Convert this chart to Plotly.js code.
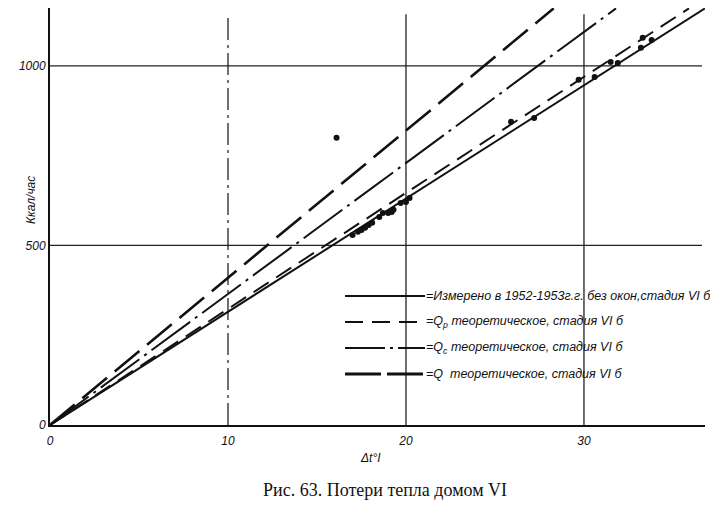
<!DOCTYPE html>
<html>
<head>
<meta charset="utf-8">
<script src="https://cdn.plot.ly/plotly-3.0.1.min.js"></script>
<style>html,body{margin:0;padding:0;background:#fff;}#chart{width:710px;height:512px;}</style>
</head>
<body>
<div id="chart"></div>
<script>
// Line endpoints (Δt, kcal/h)
var measuredX = [0, 36.8];
var measuredY = [0, 1160];
var qpX = [0, 35.9];
var qpY = [0, 1160];
var qcX = [0, 31.8];
var qcY = [0, 1160];
var qX = [0, 28.3];
var qY = [0, 1160];

// Measured points
var pointsX = [17.0, 17.3, 17.5, 17.7, 17.9, 18.1, 18.5, 18.7, 19.0, 19.2, 19.3, 19.7, 20.0, 20.2,
               25.9, 27.2, 29.7, 30.6, 31.5, 31.9, 33.2, 33.3, 33.8, 16.1];
var pointsY = [529, 538, 543, 549, 557, 563, 579, 590, 590, 593, 599, 618, 621, 632,
               844, 855, 961, 969, 1011, 1008, 1050, 1078, 1072, 800];

var xTicks = [0, 10, 20, 30];
var xTickText = ['0', '10', '20', '30'];
var yTicks = [0, 500, 1000];
var yTickText = ['0', '500', '1000'];

var legendLabels = [
  '=Измерено в 1952-1953г.г. без окон,стадия VI б',
  '=Q<sub>p</sub> теоретическое, стадия VI б',
  '=Q<sub>c</sub> теоретическое, стадия VI б',
  '=Q  теоретическое, стадия VI б'
];
var legendStyles = [
  {dash: 'solid', width: 2},
  {dash: '18px,9px', width: 2},
  {dash: '40px,5px,3px,5px', width: 2},
  {dash: '36px,6px', width: 3}
];

var vGrid = [10, 20, 30];
var vGridDash = ['22px,5px,3px,5px', 'solid', 'solid'];
var hGrid = [500, 1000];

var L = 50, R = 5, T = 8, B = 87, W = 710, H = 512;
var pw = W - L - R, ph = H - T - B;
function px(x) { return (x - L) / pw; }
function py(y) { return (H - B - y) / ph; }

var traces = [
  {x: measuredX, y: measuredY, mode: 'lines', line: {color: '#111', width: 2}},
  {x: qpX, y: qpY, mode: 'lines', line: {color: '#111', width: 2, dash: '18px,9px'}},
  {x: qcX, y: qcY, mode: 'lines', line: {color: '#111', width: 2, dash: '48px,6px,3px,6px'}},
  {x: qX, y: qY, mode: 'lines', line: {color: '#111', width: 2.6, dash: '32px,10px'}},
  {x: pointsX, y: pointsY, mode: 'markers', marker: {color: '#111', size: 6}}
];

var shapes = [];
vGrid.forEach(function (v, i) {
  shapes.push({type: 'line', xref: 'x', yref: 'paper', x0: v, x1: v, y0: 0, y1: 0.985,
    line: {color: '#222', width: 1.3, dash: vGridDash[i]}, layer: 'below'});
});
hGrid.forEach(function (v) {
  shapes.push({type: 'line', xref: 'paper', yref: 'y', x0: 0, x1: px(702), y0: v, y1: v,
    line: {color: '#222', width: 1.3}, layer: 'below'});
});
var rowY = [296, 322, 348, 374];
var annotations = [];
legendLabels.forEach(function (t, i) {
  shapes.push({type: 'line', xref: 'paper', yref: 'paper', x0: px(345), x1: px(425),
    y0: py(rowY[i]), y1: py(rowY[i]),
    line: {color: '#111', width: legendStyles[i].width, dash: legendStyles[i].dash}});
  annotations.push({xref: 'paper', yref: 'paper', x: px(424), y: py(rowY[i]), text: t,
    showarrow: false, xanchor: 'left', yanchor: 'middle',
    font: {family: 'Liberation Sans, sans-serif', size: 12.5, style: 'italic', color: '#111'}});
});
annotations.push({xref: 'paper', yref: 'paper', x: px(22), y: py(200), text: 'Ккал/час',
  showarrow: false, textangle: -90,
  font: {family: 'Liberation Sans, sans-serif', size: 12, style: 'italic', color: '#111'}});
annotations.push({xref: 'paper', yref: 'paper', x: px(370), y: py(467), text: 'Δt°I',
  showarrow: false,
  font: {family: 'Liberation Sans, sans-serif', size: 12, style: 'italic', color: '#111'}});
annotations.push({xref: 'paper', yref: 'paper', x: px(385), y: py(502), text: 'Рис. 63. Потери тепла домом VI',
  showarrow: false,
  font: {family: 'Liberation Serif, DejaVu Serif, serif', size: 18, color: '#111'}});

var layout = {
  width: W, height: H,
  margin: {l: L, r: R, t: T, b: B},
  paper_bgcolor: '#fff', plot_bgcolor: '#fff',
  showlegend: false,
  xaxis: {range: [0, 36.8], tickvals: xTicks, ticktext: xTickText, showgrid: false, zeroline: false,
    showline: true, linecolor: '#111', linewidth: 2, ticks: '', ticklen: 0, ticklabelstandoff: 4,
    tickfont: {family: 'Liberation Sans, sans-serif', size: 12, style: 'italic', color: '#111'}},
  yaxis: {range: [0, 1161], tickvals: yTicks, ticktext: yTickText, showgrid: false, zeroline: false,
    showline: true, linecolor: '#111', linewidth: 2, ticks: '', ticklen: 0,
    tickfont: {family: 'Liberation Sans, sans-serif', size: 12, style: 'italic', color: '#111'}},
  shapes: shapes,
  annotations: annotations
};

Plotly.newPlot('chart', traces, layout, {staticPlot: true, displayModeBar: false});
</script>
</body>
</html>
